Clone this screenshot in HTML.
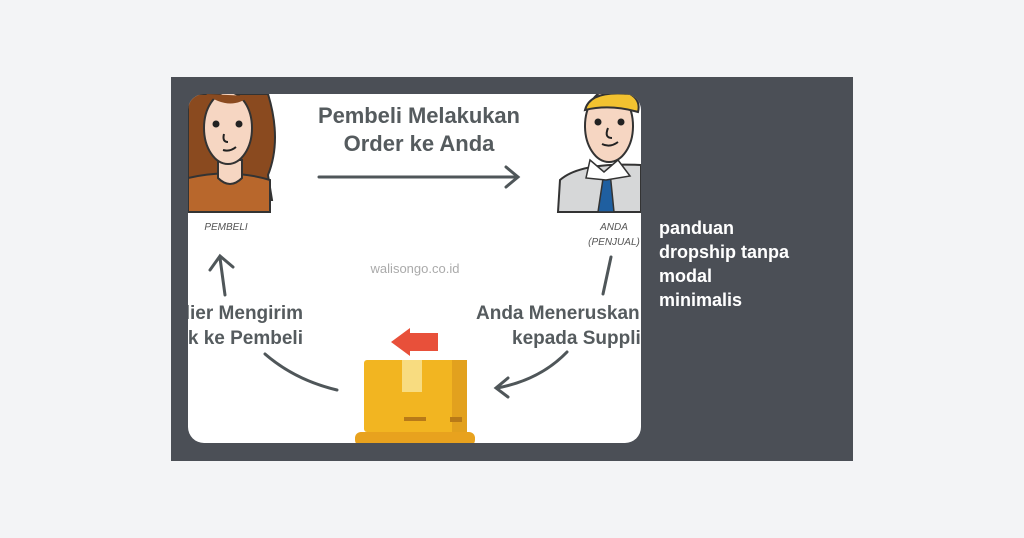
<!DOCTYPE html>
<html><head><style>
html,body{margin:0;padding:0;width:1024px;height:538px;background:#f3f4f6;overflow:hidden;font-family:"Liberation Sans",sans-serif}
.panel{position:absolute;left:171px;top:77px;width:682px;height:384px;background:#4b4f56}
.cap{position:absolute;left:659px;top:216px;color:#fff;font-weight:bold;font-size:18px;line-height:24px;width:190px;white-space:nowrap}
svg{position:absolute;left:0;top:0}
</style></head><body>
<div class="panel"></div>
<svg width="1024" height="538" viewBox="0 0 1024 538">
<defs><clipPath id="c"><rect x="188" y="94" width="453" height="349" rx="16"/></clipPath></defs>
<g clip-path="url(#c)">
<rect x="188" y="94" width="453" height="349" fill="#fff"/>
<!-- woman -->
<path d="M188 94 H268 Q282 140 268 175 L272 200 L188 200 Z" fill="#8a4a1f" stroke="#333" stroke-width="2"/>
<path d="M188 178 Q230 168 270 180 L270 212 L188 212 Z" fill="#b8672c" stroke="#333" stroke-width="2"/>
<path d="M218 160 L218 178 Q230 190 242 178 L242 160 Z" fill="#f6d6c2" stroke="#333" stroke-width="2"/>
<ellipse cx="228" cy="128" rx="24" ry="36" fill="#f6d6c2" stroke="#333" stroke-width="2"/>
<path d="M206 94 Q230 112 250 96" fill="#8a4a1f"/>
<circle cx="216" cy="124" r="3.5" fill="#222"/><circle cx="239" cy="124" r="3.5" fill="#222"/>
<path d="M224 134 Q222 142 228 142 M223 150 Q230 152 236 147" stroke="#222" stroke-width="2" fill="none"/>
<!-- man -->
<path d="M558 212 L560 180 Q580 162 641 165 L641 212 Z" fill="#d6d7d8" stroke="#333" stroke-width="2"/>
<path d="M604 172 L598 212 L614 212 L610 172 Z" fill="#1f5fa0" stroke="#333" stroke-width="1.5"/>
<path d="M590 160 L604 172 L618 160 L630 176 L606 180 L586 178 Z" fill="#fff" stroke="#333" stroke-width="1.5"/>
<ellipse cx="609" cy="126" rx="24" ry="36" fill="#f6d6c2" stroke="#333" stroke-width="2"/>
<path d="M585 110 Q590 90 630 94 Q641 100 638 112 Q610 104 585 110Z" fill="#f2c230" stroke="#333" stroke-width="2"/>
<circle cx="598" cy="122" r="3.5" fill="#222"/><circle cx="621" cy="122" r="3.5" fill="#222"/>
<path d="M608 128 Q604 138 612 138 M602 144 Q610 148 618 142" stroke="#222" stroke-width="2" fill="none"/>
<!-- texts -->
<g font-family="Liberation Sans, sans-serif" font-weight="bold" fill="#555b5e" font-size="22">
<text x="419" y="123" text-anchor="middle" textLength="202">Pembeli Melakukan</text>
<text x="419" y="151" text-anchor="middle">Order ke Anda</text>
<text x="303" y="319" text-anchor="end" font-size="19">lier Mengirim</text>
<text x="303" y="344" text-anchor="end" font-size="19">uk ke Pembeli</text>
<text x="476" y="319" font-size="19">Anda Meneruskan O</text>
<text x="512" y="344" font-size="19">kepada Supplier</text>
</g>
<g font-family="Liberation Sans, sans-serif" font-style="italic" font-size="10" fill="#555">
<text x="226" y="230" text-anchor="middle">PEMBELI</text>
<text x="614" y="230" text-anchor="middle">ANDA</text>
<text x="614" y="245" text-anchor="middle">(PENJUAL)</text>
</g>
<text x="415" y="273" text-anchor="middle" font-family="Liberation Sans, sans-serif" font-size="13" fill="#aaa">walisongo.co.id</text>
<!-- arrows -->
<g stroke="#4f5659" stroke-width="3" fill="none" stroke-linecap="round">
<path d="M319 177 H518 M506 167 L518 177 L506 187"/>
<path d="M225 295 L220 258 M210 270 L220 256 L233 267"/>
<path d="M611 257 L603 294"/>
<path d="M265 354 Q295 380 337 390"/>
<path d="M567 352 Q540 380 497 388 M508 378 L496 388 L508 397"/>
</g>
<!-- red arrow -->
<path d="M438 333 L410 333 L410 328 L391 342 L410 356 L410 351 L438 351 Z" fill="#e8503a"/>
<!-- box -->
<rect x="364" y="360" width="103" height="72" rx="3" fill="#f2b521"/>
<rect x="452" y="360" width="15" height="72" fill="#e2a11e"/>
<rect x="402" y="360" width="20" height="32" fill="#f8dc80"/>
<rect x="404" y="417" width="22" height="4" fill="#b87a18"/>
<rect x="450" y="417" width="12" height="5" fill="#b87a18"/>
<rect x="355" y="432" width="120" height="14" rx="6" fill="#e8a21e"/>
</g>
</svg>
<div class="cap">panduan<br>dropship tanpa<br>modal<br>minimalis</div>
</body></html>
